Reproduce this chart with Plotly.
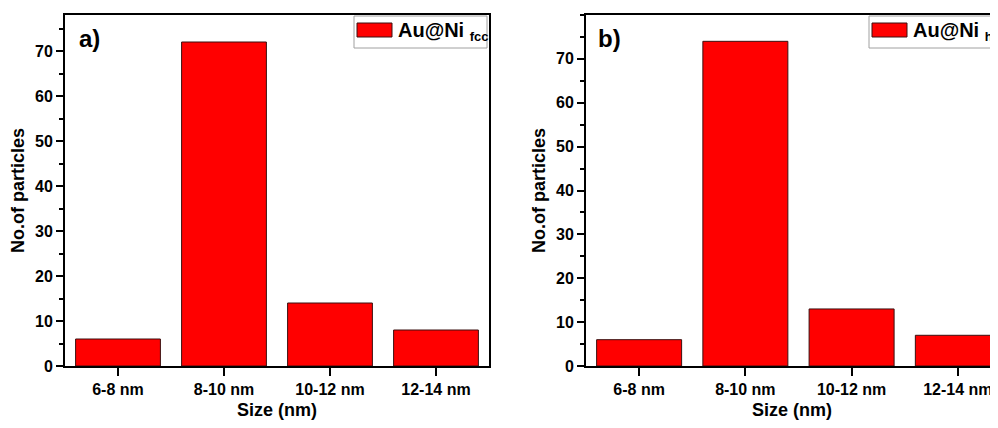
import plotly.graph_objects as go

categories = ["6-8 nm", "8-10 nm", "10-12 nm", "12-14 nm"]
counts_fcc = [6, 72, 14, 8]
counts_hcp = [6, 74, 13, 7]
y_tick_values = [0, 10, 20, 30, 40, 50, 60, 70]
legend_fcc = "Au@Ni <sub><span style='font-size:13px'>fcc</span></sub>"
legend_hcp = "Au@Ni <sub><span style='font-size:13px'>hcp</span></sub>"

FONT = "Arial, Liberation Sans, sans-serif"
RED = "#ff0000"
EDGE = "#3a1010"

OFF = 8  # page body margin
W, H = 990, 412
ML, MR, MT, MB = 57, 0, 7, 54
PW, PH = W - ML - MR, H - MT - MB


def px(sx):
    return (sx - OFF - ML) / PW


def py(sy):
    return (H - MB - (sy - OFF)) / PH


fig = go.Figure()
fig.add_trace(go.Bar(x=categories, y=counts_fcc, xaxis="x", yaxis="y", width=0.8,
                     marker=dict(color=RED, line=dict(color=EDGE, width=1)),
                     name="Au@Ni fcc", showlegend=False))
fig.add_trace(go.Bar(x=categories, y=counts_hcp, xaxis="x2", yaxis="y2", width=0.8,
                     marker=dict(color=RED, line=dict(color=EDGE, width=1)),
                     name="Au@Ni hcp", showlegend=False))

tickfont = dict(family=FONT, size=16, color="black", weight="bold")
titlefont = dict(family=FONT, size=18, color="black", weight="bold")

xcommon = dict(type="category", categoryorder="array", categoryarray=categories,
               showline=True, linecolor="black", linewidth=2, mirror=True,
               ticks="outside", ticklen=8, tickwidth=1.5, tickcolor="black",
               tickfont=tickfont, showgrid=False, zeroline=False,
               minor=dict(ticks="outside", ticklen=4, tickwidth=1.5, tickcolor="black",
                          tick0=0.5, dtick=1, showgrid=False),
               title=dict(text="Size (nm)", font=titlefont, standoff=6))
ycommon = dict(showline=True, linecolor="black", linewidth=2,
               ticks="outside", ticklen=7, tickwidth=1.5, tickcolor="black",
               tickmode="array", tickvals=y_tick_values, tickfont=tickfont,
               showgrid=False, zeroline=False,
               minor=dict(ticks="outside", ticklen=4, tickwidth=1.5, tickcolor="black",
                          dtick=5, tick0=0, showgrid=False),
               title=dict(text="No.of particles", font=titlefont, standoff=6))

fig.update_layout(
    width=W, height=H,
    margin=dict(l=ML, r=MR, t=MT, b=MB, pad=0),
    paper_bgcolor="white", plot_bgcolor="white",
    font=dict(family=FONT, color="black"),
    bargap=0.2,
    xaxis=dict(domain=[0, px(489)], anchor="y", range=[-0.5, 3.5], **xcommon),
    yaxis=dict(domain=[0, 1], anchor="x", range=[0, 78], mirror=True, **ycommon),
    xaxis2=dict(domain=[px(586), 1], anchor="y2", range=[-0.5, 3.378], **xcommon),
    yaxis2=dict(domain=[0, 1], anchor="x2", range=[0, 80], mirror=False, **ycommon),
)

shapes = []
annotations = []
# legend boxes
for (bx0, bx1, sx0, tx, label) in [(354, 487, 357, 396, legend_fcc),
                                   (869, 1040, 872, 911, legend_hcp)]:
    shapes.append(dict(type="rect", xref="paper", yref="paper",
                       x0=px(bx0), x1=px(bx1), y0=py(48), y1=py(16),
                       line=dict(color="#a0a0a0", width=1), fillcolor="white", layer="above"))
    shapes.append(dict(type="rect", xref="paper", yref="paper",
                       x0=px(sx0), x1=px(sx0 + 35), y0=py(37), y1=py(23),
                       line=dict(color=EDGE, width=1), fillcolor=RED, layer="above"))
    annotations.append(dict(xref="paper", yref="paper", x=px(tx), y=py(32),
                            xanchor="left", yanchor="middle", showarrow=False,
                            text=label, font=dict(family=FONT, size=20, color="black", weight="bold")))

for (lx, lab) in [(77, "a)"), (596, "b)")]:
    annotations.append(dict(xref="paper", yref="paper", x=px(lx), y=py(38),
                            xanchor="left", yanchor="middle", showarrow=False,
                            text=lab, font=dict(family=FONT, size=24, color="black", weight="bold")))

fig.update_layout(shapes=shapes, annotations=annotations)

fig.write_html("out.html")
